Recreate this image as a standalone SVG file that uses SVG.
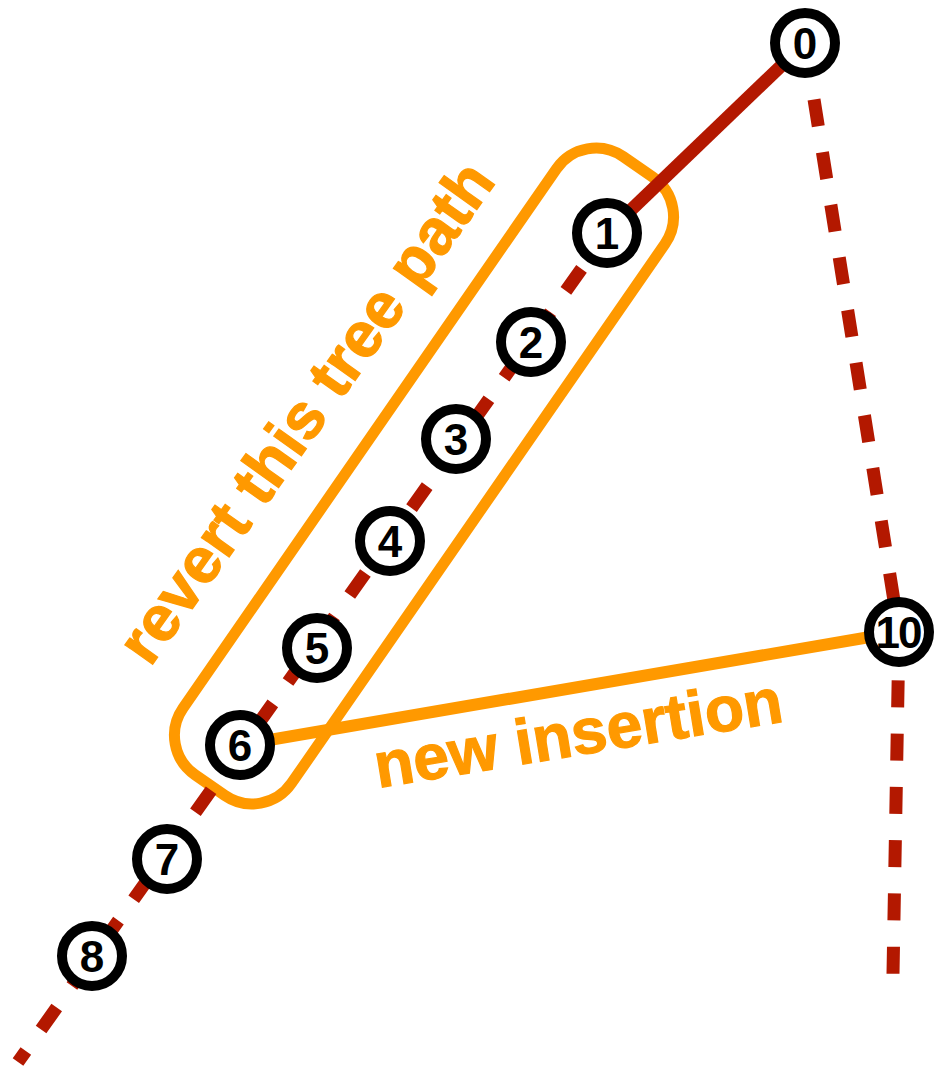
<svg xmlns="http://www.w3.org/2000/svg" width="934" height="1068" viewBox="0 0 934 1068">
<style>
.edge{fill:none;stroke:#B31800;stroke-width:13}
.dash{stroke-dasharray:27 26.3}
.orange{fill:none;stroke:#FF9900}
.node circle{fill:#fff;stroke:#000;stroke-width:10}
.node text{font-family:"Liberation Sans",Arial,sans-serif;font-weight:bold;font-size:44px;text-anchor:middle;fill:#000}
.label{font-family:"Liberation Sans",Arial,sans-serif;font-weight:bold;font-size:64px;fill:#FF9900;stroke:#FF9900;stroke-width:1.2}
</style>
<rect width="934" height="1068" fill="#fff"/>
<g id="highlight">
<rect class="orange" stroke-width="11" x="-376" y="-66" width="752" height="132" rx="48" ry="48" transform="translate(424,476) rotate(-55.3)"/>
</g>
<g id="connectors">
<line class="edge" x1="805" y1="43" x2="607" y2="233"/>
<line class="edge dash" stroke-dashoffset="9.3" x1="607" y1="233" x2="18" y2="1062"/>
<line class="edge dash" stroke-dashoffset="-4" x1="805" y1="43" x2="899" y2="632"/>
<line class="edge dash" stroke-dashoffset="5" x1="899" y1="632" x2="893" y2="974"/>
<line class="orange" stroke-width="12" x1="240" y1="745" x2="899" y2="632"/>
</g>
<text class="label" transform="translate(150,668) rotate(-54.5)">revert this tree path</text>
<text class="label" transform="translate(378,788) rotate(-9.3)">new insertion</text>
<g id="n0" class="node"><circle cx="805" cy="43" r="30"/><text x="805" y="59">0</text></g>
<g id="n1" class="node"><circle cx="607" cy="233" r="30"/><text x="607" y="249">1</text></g>
<g id="n2" class="node"><circle cx="531" cy="342" r="30"/><text x="531" y="358">2</text></g>
<g id="n3" class="node"><circle cx="456" cy="439" r="30"/><text x="456" y="455">3</text></g>
<g id="n4" class="node"><circle cx="390" cy="541" r="30"/><text x="390" y="557">4</text></g>
<g id="n5" class="node"><circle cx="317" cy="648" r="30"/><text x="317" y="664">5</text></g>
<g id="n6" class="node"><circle cx="240" cy="745" r="30"/><text x="240" y="761">6</text></g>
<g id="n7" class="node"><circle cx="167" cy="859" r="30"/><text x="167" y="875">7</text></g>
<g id="n8" class="node"><circle cx="92" cy="956" r="30"/><text x="92" y="972">8</text></g>
<g id="n10" class="node"><circle cx="899" cy="632" r="30"/><text x="898" y="648" letter-spacing="-2">10</text></g>
</svg>
